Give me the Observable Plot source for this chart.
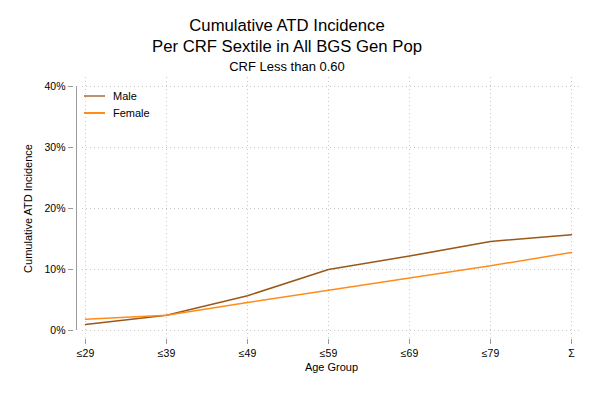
<!DOCTYPE html>
<html>
<head>
<meta charset="utf-8">
<script src="https://cdn.jsdelivr.net/npm/d3@7"></script>
<script src="https://cdn.jsdelivr.net/npm/@observablehq/plot@0.6"></script>
<style>
  html, body { margin: 0; padding: 0; background: #fff; }
  #wrap { position: relative; width: 597px; height: 398px; font-family: "Liberation Sans", Arial, sans-serif; color: #000; }
  .t { position: absolute; left: 287px; transform: translateX(-50%); white-space: nowrap; line-height: 1; }
  #legend { position: absolute; left: 84px; top: 88px; font-size: 11px; line-height: 16.5px; }
  #legend div { display: flex; align-items: center; }
  #legend svg { margin-right: 8px; }
</style>
</head>
<body>
<div id="wrap">
  <div class="t" style="top:18px;font-size:16.7px;">Cumulative ATD Incidence</div>
  <div class="t" style="top:39px;font-size:16.7px;">Per CRF Sextile in All BGS Gen Pop</div>
  <div class="t" style="top:60px;font-size:13px;">CRF Less than 0.60</div>
  <div id="legend"></div>
</div>
<script>
const ageGroups = ["≤29", "≤39", "≤49", "≤59", "≤69", "≤79", "Σ"];
const maleValues = [0.010, 0.025, 0.057, 0.100, 0.122, 0.146, 0.157];
const femaleValues = [0.0185, 0.025, 0.046, 0.066, 0.086, 0.106, 0.128];
const yTicks = [0, 0.1, 0.2, 0.3, 0.4];
const seriesNames = ["Male", "Female"];
const seriesColors = ["#9a5818", "#ff8c1a"];
const legendColors = ["#c0906a", "#ff8c1a"];

const data = [];
ageGroups.forEach((g, i) => {
  data.push({age: g, value: maleValues[i], sex: "Male"});
  data.push({age: g, value: femaleValues[i], sex: "Female"});
});

const chart = Plot.plot({
  width: 597,
  height: 398,
  marginLeft: 82,
  marginRight: 17,
  marginTop: 77,
  marginBottom: 59,
  style: {fontFamily: "'Liberation Sans', Arial, sans-serif", fontSize: "10.5px", color: "#000", background: "#fff"},
  x: {type: "point", domain: ageGroups, padding: 0, insetRight: 7},
  y: {domain: [0, 0.4], insetTop: 9, insetBottom: 9},
  color: {domain: seriesNames, range: seriesColors},
  marks: [
    Plot.gridY(yTicks, {stroke: "#c8c8c8", strokeOpacity: 1, strokeDasharray: "1,3"}),
    Plot.gridX(ageGroups, {stroke: "#c8c8c8", strokeOpacity: 1, strokeDasharray: "1,3"}),
    Plot.ruleX([ageGroups[0]], {y1: yTicks[0], y2: yTicks[yTicks.length - 1], dx: -9, stroke: "#999"}),
    Plot.ruleY([yTicks[0]], {x1: ageGroups[0], x2: ageGroups[ageGroups.length - 1], dy: 9, stroke: "#999"}),
    Plot.axisY(yTicks, {tickSize: 5, dx: -9, tickPadding: 3, stroke: "#999", tickFormat: d => `${Math.round(d * 100)}%`, label: null, color: "#000"}),
    Plot.axisX(ageGroups, {tickSize: 5, tickPadding: 5, stroke: "#999", label: null, color: "#000"}),
    Plot.text(["Age Group"], {frameAnchor: "bottom", dy: 31, fontSize: 11, fill: "#000"}),
    Plot.text(["Cumulative ATD Incidence"], {frameAnchor: "left", dx: -54, dy: 0, rotate: -90, textAnchor: "middle", fontSize: 11, fill: "#000"}),
    Plot.line(data, {x: "age", y: "value", stroke: "sex", strokeWidth: 1.5, z: "sex"})
  ]
});
document.getElementById("wrap").prepend(chart);
chart.style.position = "absolute";
chart.style.left = "0";
chart.style.top = "0";

const legend = document.getElementById("legend");
seriesNames.forEach((name, i) => {
  const row = document.createElement("div");
  row.innerHTML = `<svg width="21" height="4"><line x1="0" x2="21" y1="2" y2="2" stroke="${legendColors[i]}" stroke-width="2"/></svg><span>${name}</span>`;
  legend.appendChild(row);
});
</script>
</body>
</html>
